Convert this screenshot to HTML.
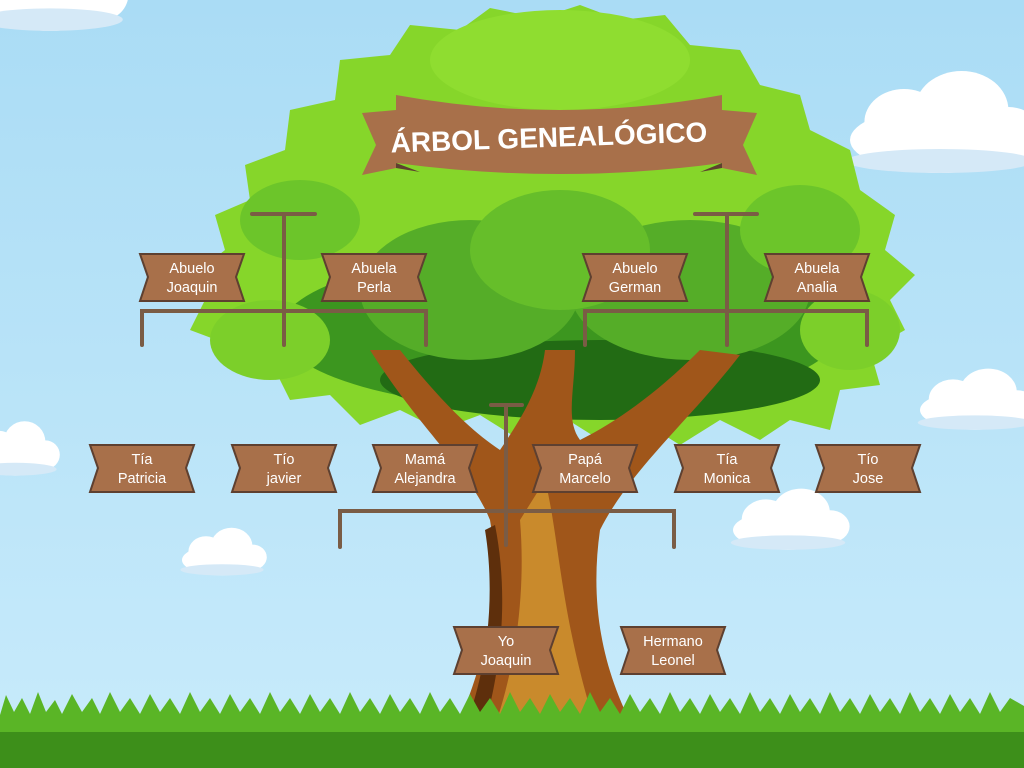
<!DOCTYPE html>
<html><head><meta charset="utf-8"><style>
html,body{margin:0;padding:0;width:1024px;height:768px;overflow:hidden;background:#bfe6fa}
svg{display:block}
text{font-family:"Liberation Sans",sans-serif}
</style></head><body>
<svg width="1024" height="768" viewBox="0 0 1024 768" xmlns="http://www.w3.org/2000/svg">
<defs>
<linearGradient id="sky" x1="0" y1="0" x2="0" y2="1"><stop offset="0" stop-color="#aadcf5"/><stop offset="1" stop-color="#c8ebfb"/></linearGradient>
<g id="cloud"><ellipse cx="0" cy="0" rx="50" ry="22" fill="#fff"/><circle cx="-20" cy="-12" r="22" fill="#fff"/><circle cx="12" cy="-20" r="26" fill="#fff"/><circle cx="38" cy="-4" r="18" fill="#fff"/><ellipse cx="0" cy="14" rx="52" ry="8" fill="#d5e9f7"/></g>
</defs>
<rect width="1024" height="768" fill="url(#sky)"/>
<g transform="translate(50,0) scale(1.4)"><use href="#cloud"/></g>
<g transform="translate(940,140) scale(1.8,1.5)"><use href="#cloud"/></g>
<g transform="translate(975,410) scale(1.1,0.9)"><use href="#cloud"/></g>
<g transform="translate(15,458) scale(0.8,0.8)"><use href="#cloud"/></g>
<g transform="translate(222,560) scale(0.8,0.7)"><use href="#cloud"/></g>
<g transform="translate(788,530) scale(1.1,0.9)"><use href="#cloud"/></g>
<!-- canopy -->
<g stroke-linejoin="miter">
<path d="M190 330 L205 300 L200 270 L225 250 L215 215 L250 200 L245 165 L285 150 L290 110 L335 100 L340 60 L390 55 L410 25 L460 30 L490 8 L540 18 L580 5 L620 20 L665 15 L690 45 L740 50 L760 85 L800 95 L810 130 L850 150 L860 190 L895 215 L885 250 L915 275 L890 300 L905 330 L870 350 L880 385 L840 390 L830 430 L790 420 L760 440 L720 420 L680 445 L640 420 L600 440 L560 415 L520 440 L480 415 L440 430 L400 410 L360 425 L330 395 L290 400 L275 370 L235 370 L230 345 Z" fill="#86d62a"/>
<ellipse cx="560" cy="330" rx="280" ry="80" fill="#3c961f"/>
<ellipse cx="600" cy="380" rx="220" ry="40" fill="#226b14"/>
<ellipse cx="470" cy="290" rx="110" ry="70" fill="#55ad28"/>
<ellipse cx="690" cy="290" rx="120" ry="70" fill="#55ad28"/>
<ellipse cx="560" cy="250" rx="90" ry="60" fill="#66be2a"/>
<ellipse cx="300" cy="220" rx="60" ry="40" fill="#6cc52a"/>
<ellipse cx="800" cy="230" rx="60" ry="45" fill="#6cc52a"/>
<ellipse cx="560" cy="60" rx="130" ry="50" fill="#8fdd30"/>
<ellipse cx="270" cy="340" rx="60" ry="40" fill="#7ccf2a"/>
<ellipse cx="850" cy="330" rx="50" ry="40" fill="#7ccf2a"/>
</g>
<!-- trunk -->
<path d="M450 740 C490 660 500 580 490 520 C470 470 420 430 370 350 L400 350 C440 400 470 430 500 450 C520 420 540 390 545 350 L575 350 C575 390 565 420 580 440 C620 420 660 390 700 350 L740 355 C690 420 630 470 600 530 C590 600 600 670 640 740 Z" fill="#a0561a"/>
<path d="M490 740 C520 660 525 580 520 520 L545 480 C560 540 560 620 600 740 Z" fill="#c98a2c"/>
<path d="M460 740 C490 670 495 590 485 530 L495 525 C510 600 500 680 480 740 Z" fill="#5e2f0c"/>
<!-- grass -->
<path d="M0 768 L0 715 L6 695 L14 712 L22 698 L30 714 L38 692 L46 712 L55 700 L62 714 L72 694 L82 712 L92 698 L100 714 L110 692 L120 712 L130 698 L140 714 L150 694 L160 712 L170 698 L180 714 L190 692 L200 712 L210 698 L220 714 L230 694 L240 712 L250 698 L260 714 L270 692 L280 712 L290 698 L300 714 L310 694 L320 712 L330 698 L340 714 L350 692 L360 712 L370 698 L380 714 L390 694 L400 712 L410 698 L420 714 L430 692 L440 712 L450 698 L460 714 L470 694 L480 712 L490 698 L500 714 L510 692 L520 712 L530 698 L540 714 L550 694 L560 712 L570 698 L580 714 L590 692 L600 712 L610 698 L620 714 L630 694 L640 712 L650 698 L660 714 L670 692 L680 712 L690 698 L700 714 L710 694 L720 712 L730 698 L740 714 L750 692 L760 712 L770 698 L780 714 L790 694 L800 712 L810 698 L820 714 L830 692 L840 712 L850 698 L860 714 L870 694 L880 712 L890 698 L900 714 L910 692 L920 712 L930 698 L940 714 L950 694 L960 712 L970 698 L980 714 L990 692 L1000 712 L1010 698 L1024 706 L1024 768 Z" fill="#5ab526"/>
<rect x="0" y="732" width="1024" height="36" fill="#3d8f1a"/>
<!-- banner -->
<path d="M362 113 L396 110 L396 168 L362 175 L376 145 Z" fill="#a8704a"/>
<path d="M396 163 L420 172 L396 168 Z" fill="#5e4030"/>
<path d="M757 113 L722 110 L722 168 L757 175 L743 145 Z" fill="#a8704a"/>
<path d="M722 163 L700 172 L722 168 Z" fill="#5e4030"/>
<path d="M396 95 Q560 125 722 95 L722 163 Q560 185 396 163 Z" fill="#a8704a"/>
<text x="549" y="147" text-anchor="middle" fill="#fff" font-size="28" font-weight="bold" transform="rotate(-2 549 140)">ÁRBOL GENEALÓGICO</text>
<!-- connectors -->
<g stroke="#7a5c45" stroke-width="4" fill="none" stroke-linecap="round">
<path d="M252 214 H315 M284 214 V345"/>
<path d="M142 345 V311 H426 V345"/>
<path d="M695 214 H757 M727 214 V345"/>
<path d="M585 345 V311 H867 V345"/>
<path d="M491 405 H522 M506 405 V545"/>
<path d="M340 547 V511 H674 V547"/>
</g>
<!-- labels -->
<g font-size="14.5" fill="#fff" text-anchor="middle">
<g fill="#a8704a" stroke="#5e4030" stroke-width="2">
<path d="M140 254 H244 L236 277 L244 301 H140 L148 277 Z"/>
<path d="M322 254 H426 L418 277 L426 301 H322 L330 277 Z"/>
<path d="M583 254 H687 L679 277 L687 301 H583 L591 277 Z"/>
<path d="M765 254 H869 L861 277 L869 301 H765 L773 277 Z"/>
<path d="M90 445 H194 L186 468 L194 492 H90 L98 468 Z"/>
<path d="M232 445 H336 L328 468 L336 492 H232 L240 468 Z"/>
<path d="M373 445 H477 L469 468 L477 492 H373 L381 468 Z"/>
<path d="M533 445 H637 L629 468 L637 492 H533 L541 468 Z"/>
<path d="M675 445 H779 L771 468 L779 492 H675 L683 468 Z"/>
<path d="M816 445 H920 L912 468 L920 492 H816 L824 468 Z"/>
<path d="M454 627 H558 L550 650 L558 674 H454 L462 650 Z"/>
<path d="M621 627 H725 L717 650 L725 674 H621 L629 650 Z"/>
</g>
<text x="192" y="273">Abuelo</text><text x="192" y="292">Joaquin</text>
<text x="374" y="273">Abuela</text><text x="374" y="292">Perla</text>
<text x="635" y="273">Abuelo</text><text x="635" y="292">German</text>
<text x="817" y="273">Abuela</text><text x="817" y="292">Analia</text>
<text x="142" y="464">Tía</text><text x="142" y="483">Patricia</text>
<text x="284" y="464">Tío</text><text x="284" y="483">javier</text>
<text x="425" y="464">Mamá</text><text x="425" y="483">Alejandra</text>
<text x="585" y="464">Papá</text><text x="585" y="483">Marcelo</text>
<text x="727" y="464">Tía</text><text x="727" y="483">Monica</text>
<text x="868" y="464">Tío</text><text x="868" y="483">Jose</text>
<text x="506" y="646">Yo</text><text x="506" y="665">Joaquin</text>
<text x="673" y="646">Hermano</text><text x="673" y="665">Leonel</text>
</g>
</svg>
</body></html>
